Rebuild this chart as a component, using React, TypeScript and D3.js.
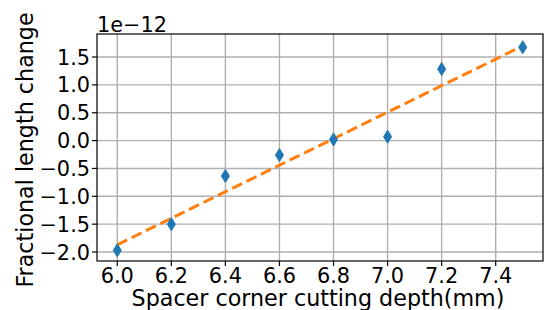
import React from "react";
import * as d3 from "d3";

const depths = [6.0, 6.2, 6.4, 6.6, 6.8, 7.0, 7.2, 7.5];
const lengthChange = [-1.97, -1.5, -0.635, -0.26, 0.02, 0.07, 1.285, 1.675];
const fitX = [6.0, 7.5];
const fitY = [-1.87, 1.7];
const xTicks = [6.0, 6.2, 6.4, 6.6, 6.8, 7.0, 7.2, 7.4];
const yTicks = [-2.0, -1.5, -1.0, -0.5, 0.0, 0.5, 1.0, 1.5];

const W = 546;
const H = 310;
const L = 97, R = 543, T = 34, B = 261;
const FONT = "DejaVu Sans, sans-serif";
const TICK_FS = 20.83;
const LABEL_FS = 22.22;

export default function App() {
  const x = d3.scaleLinear().domain([5.925, 7.575]).range([L, R]);
  const y = d3.scaleLinear().domain([-2.161, 1.913]).range([B, T]);
  const line = d3
    .line<number>()
    .x((_, i) => x(fitX[i]))
    .y((d) => y(d));
  const fmt = (v: number) => v.toFixed(1).replace("-", "\u2212");
  return (
    <svg
      width={W}
      height={H}
      style={{ position: "absolute", left: 0, top: 0, background: "#fff" }}
      fontFamily={FONT}
    >
      <rect x={0} y={0} width={W} height={H} fill="#fff" />
      <g>
        {xTicks.map((t) => (
          <line key={"gx" + t} x1={x(t)} x2={x(t)} y1={T} y2={B} stroke="#b0b0b0" strokeWidth={1.4} />
        ))}
        {yTicks.map((t) => (
          <line key={"gy" + t} x1={L} x2={R} y1={y(t)} y2={y(t)} stroke="#b0b0b0" strokeWidth={1.4} />
        ))}
      </g>
      <path d={line(fitY) || ""} fill="none" stroke="#ff7f0e" strokeWidth={3} strokeDasharray="11,5" />
      {depths.map((d, i) => {
        const cx = x(d);
        const cy = y(lengthChange[i]);
        return (
          <path
            key={"m" + i}
            d={`M${cx},${cy - 6.5}L${cx + 4},${cy}L${cx},${cy + 6.5}L${cx - 4},${cy}Z`}
            fill="#1f77b4"
            stroke="#1f77b4"
            strokeWidth={1}
          />
        );
      })}
      <rect x={L} y={T} width={R - L} height={B - T} fill="none" stroke="#000" strokeWidth={1.2} />
      {xTicks.map((t) => (
        <g key={"tx" + t}>
          <line x1={x(t)} x2={x(t)} y1={B} y2={B + 5} stroke="#000" strokeWidth={1.2} />
          <text x={x(t)} y={283} fontSize={TICK_FS} textAnchor="middle" fill="#000">
            {fmt(t)}
          </text>
        </g>
      ))}
      {yTicks.map((t) => (
        <g key={"ty" + t}>
          <line x1={L - 5} x2={L} y1={y(t)} y2={y(t)} stroke="#000" strokeWidth={1.2} />
          <text x={L - 7} y={y(t)} dy="0.36em" fontSize={TICK_FS} textAnchor="end" fill="#000">
            {fmt(t)}
          </text>
        </g>
      ))}
      <text x={L} y={32} fontSize={TICK_FS} fill="#000">
        1e{"\u2212"}12
      </text>
      <text x={(L + R) / 2 - 2} y={306} fontSize={LABEL_FS} textAnchor="middle" fill="#000">
        Spacer corner cutting depth(mm)
      </text>
      <text
        transform={`translate(33,150) rotate(-90)`}
        fontSize={LABEL_FS}
        textAnchor="middle"
        fill="#000"
      >
        Fractional length change
      </text>
    </svg>
  );
}
